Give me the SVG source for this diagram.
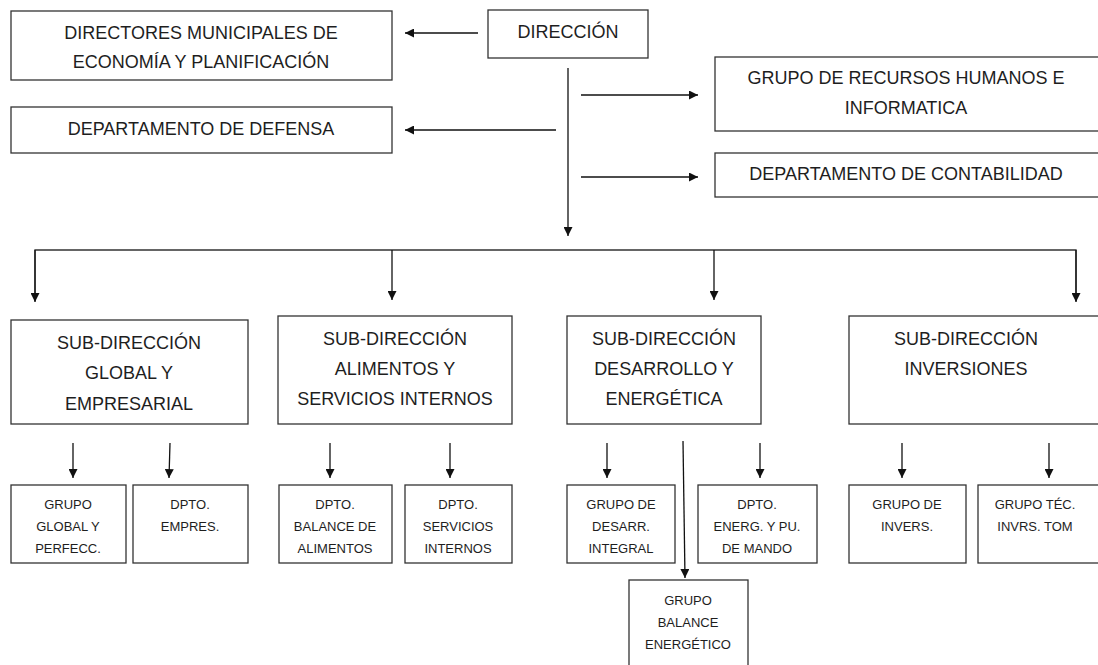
<svg xmlns="http://www.w3.org/2000/svg" width="1098" height="665" viewBox="0 0 1098 665">
<style>
.b{fill:#fff;stroke:#333;stroke-width:1.3}
.t{font-family:"Liberation Sans",Arial,sans-serif;font-size:18px;fill:#1e1e1e;text-anchor:middle;dominant-baseline:central}
.s{font-family:"Liberation Sans",Arial,sans-serif;font-size:13px;fill:#1e1e1e;text-anchor:middle;dominant-baseline:central}
.c{stroke:#111;stroke-width:1.3;fill:none;marker-end:url(#a)}
.l{stroke:#333;stroke-width:1.3;fill:none}
</style>
<defs>
<marker id="a" viewBox="0 0 10 10" refX="10" refY="5" markerWidth="10" markerHeight="9" markerUnits="userSpaceOnUse" orient="auto"><path d="M0,0 L10,5 L0,10 z" fill="#111"/></marker>
</defs>
<rect width="1098" height="665" fill="#fff"/>
<g id="connectors">
<line class="c" x1="478" y1="33" x2="405" y2="33"/>
<line class="c" x1="556" y1="130" x2="405" y2="130"/>
<line class="c" x1="568" y1="68" x2="568" y2="236"/>
<line class="c" x1="581" y1="95" x2="698" y2="95"/>
<line class="c" x1="581" y1="177" x2="698" y2="177"/>
<polyline class="l" points="35,301 35,250 1076,250 1076,301"/>
<line class="c" x1="35" y1="250" x2="35" y2="302"/>
<line class="c" x1="392" y1="250" x2="392" y2="300"/>
<line class="c" x1="714" y1="250" x2="714" y2="300"/>
<line class="c" x1="1076" y1="250" x2="1076" y2="302"/>
<line class="c" x1="73" y1="443" x2="73" y2="478"/>
<line class="c" x1="170" y1="443" x2="169" y2="478"/>
<line class="c" x1="330" y1="443" x2="330" y2="478"/>
<line class="c" x1="450" y1="443" x2="450" y2="478"/>
<line class="c" x1="607" y1="443" x2="607" y2="478"/>
<line class="c" x1="760" y1="443" x2="760" y2="478"/>
<line class="c" x1="902" y1="443" x2="902" y2="478"/>
<line class="c" x1="1049" y1="443" x2="1049" y2="478"/>
<line class="c" x1="683" y1="441" x2="685" y2="578"/>
</g>
<g id="n-directores"><rect class="b" x="11" y="11" width="381" height="69"/><text class="t" x="201" y="33">DIRECTORES MUNICIPALES DE</text><text class="t" x="201" y="62">ECONOMÍA Y PLANIFICACIÓN</text></g>
<g id="n-defensa"><rect class="b" x="11" y="107" width="381" height="46"/><text class="t" x="201" y="129">DEPARTAMENTO DE DEFENSA</text></g>
<g id="n-direccion"><rect class="b" x="488" y="10" width="160" height="48"/><text class="t" x="568" y="32">DIRECCIÓN</text></g>
<g id="n-rrhh"><rect class="b" x="715" y="57" width="390" height="74"/><text class="t" x="906" y="78">GRUPO DE RECURSOS HUMANOS E</text><text class="t" x="906" y="108">INFORMATICA</text></g>
<g id="n-contabilidad"><rect class="b" x="715" y="153" width="390" height="44"/><text class="t" x="906" y="174">DEPARTAMENTO DE CONTABILIDAD</text></g>
<g id="n-sub1"><rect class="b" x="11" y="320" width="237" height="104"/><text class="t" x="129" y="343">SUB-DIRECCIÓN</text><text class="t" x="129" y="373">GLOBAL Y</text><text class="t" x="129" y="404">EMPRESARIAL</text></g>
<g id="n-sub2"><rect class="b" x="278" y="316" width="234" height="108"/><text class="t" x="395" y="339">SUB-DIRECCIÓN</text><text class="t" x="395" y="369">ALIMENTOS Y</text><text class="t" x="395" y="399">SERVICIOS INTERNOS</text></g>
<g id="n-sub3"><rect class="b" x="567" y="316" width="194" height="108"/><text class="t" x="664" y="339">SUB-DIRECCIÓN</text><text class="t" x="664" y="369">DESARROLLO Y</text><text class="t" x="664" y="399">ENERGÉTICA</text></g>
<g id="n-sub4"><rect class="b" x="849" y="316" width="256" height="108"/><text class="t" x="966" y="339">SUB-DIRECCIÓN</text><text class="t" x="966" y="369">INVERSIONES</text></g>
<g id="n-grupoglobal"><rect class="b" x="11" y="485" width="115" height="78"/><text class="s" x="68" y="504">GRUPO</text><text class="s" x="68" y="526">GLOBAL Y</text><text class="s" x="68" y="548">PERFECC.</text></g>
<g id="n-dptoempres"><rect class="b" x="133" y="485" width="115" height="78"/><text class="s" x="190" y="504">DPTO.</text><text class="s" x="190" y="526">EMPRES.</text></g>
<g id="n-balancealim"><rect class="b" x="279" y="485" width="113" height="78"/><text class="s" x="335" y="504">DPTO.</text><text class="s" x="335" y="526">BALANCE DE</text><text class="s" x="335" y="548">ALIMENTOS</text></g>
<g id="n-servicios"><rect class="b" x="405" y="485" width="107" height="78"/><text class="s" x="458" y="504">DPTO.</text><text class="s" x="458" y="526">SERVICIOS</text><text class="s" x="458" y="548">INTERNOS</text></g>
<g id="n-desarr"><rect class="b" x="567" y="485" width="108" height="78"/><text class="s" x="621" y="504">GRUPO DE</text><text class="s" x="621" y="526">DESARR.</text><text class="s" x="621" y="548">INTEGRAL</text></g>
<g id="n-energ"><rect class="b" x="698" y="485" width="119" height="78"/><text class="s" x="757" y="504">DPTO.</text><text class="s" x="757" y="526">ENERG. Y PU.</text><text class="s" x="757" y="548">DE MANDO</text></g>
<g id="n-invers"><rect class="b" x="849" y="485" width="117" height="78"/><text class="s" x="907" y="504">GRUPO DE</text><text class="s" x="907" y="526">INVERS.</text></g>
<g id="n-tecinvrs"><rect class="b" x="978" y="485" width="127" height="78"/><text class="s" x="1035" y="504">GRUPO TÉC.</text><text class="s" x="1035" y="526">INVRS. TOM</text></g>
<g id="n-balanceenerg"><rect class="b" x="629" y="580" width="119" height="95"/><text class="s" x="688" y="600">GRUPO</text><text class="s" x="688" y="622">BALANCE</text><text class="s" x="688" y="644">ENERGÉTICO</text></g>
</svg>
